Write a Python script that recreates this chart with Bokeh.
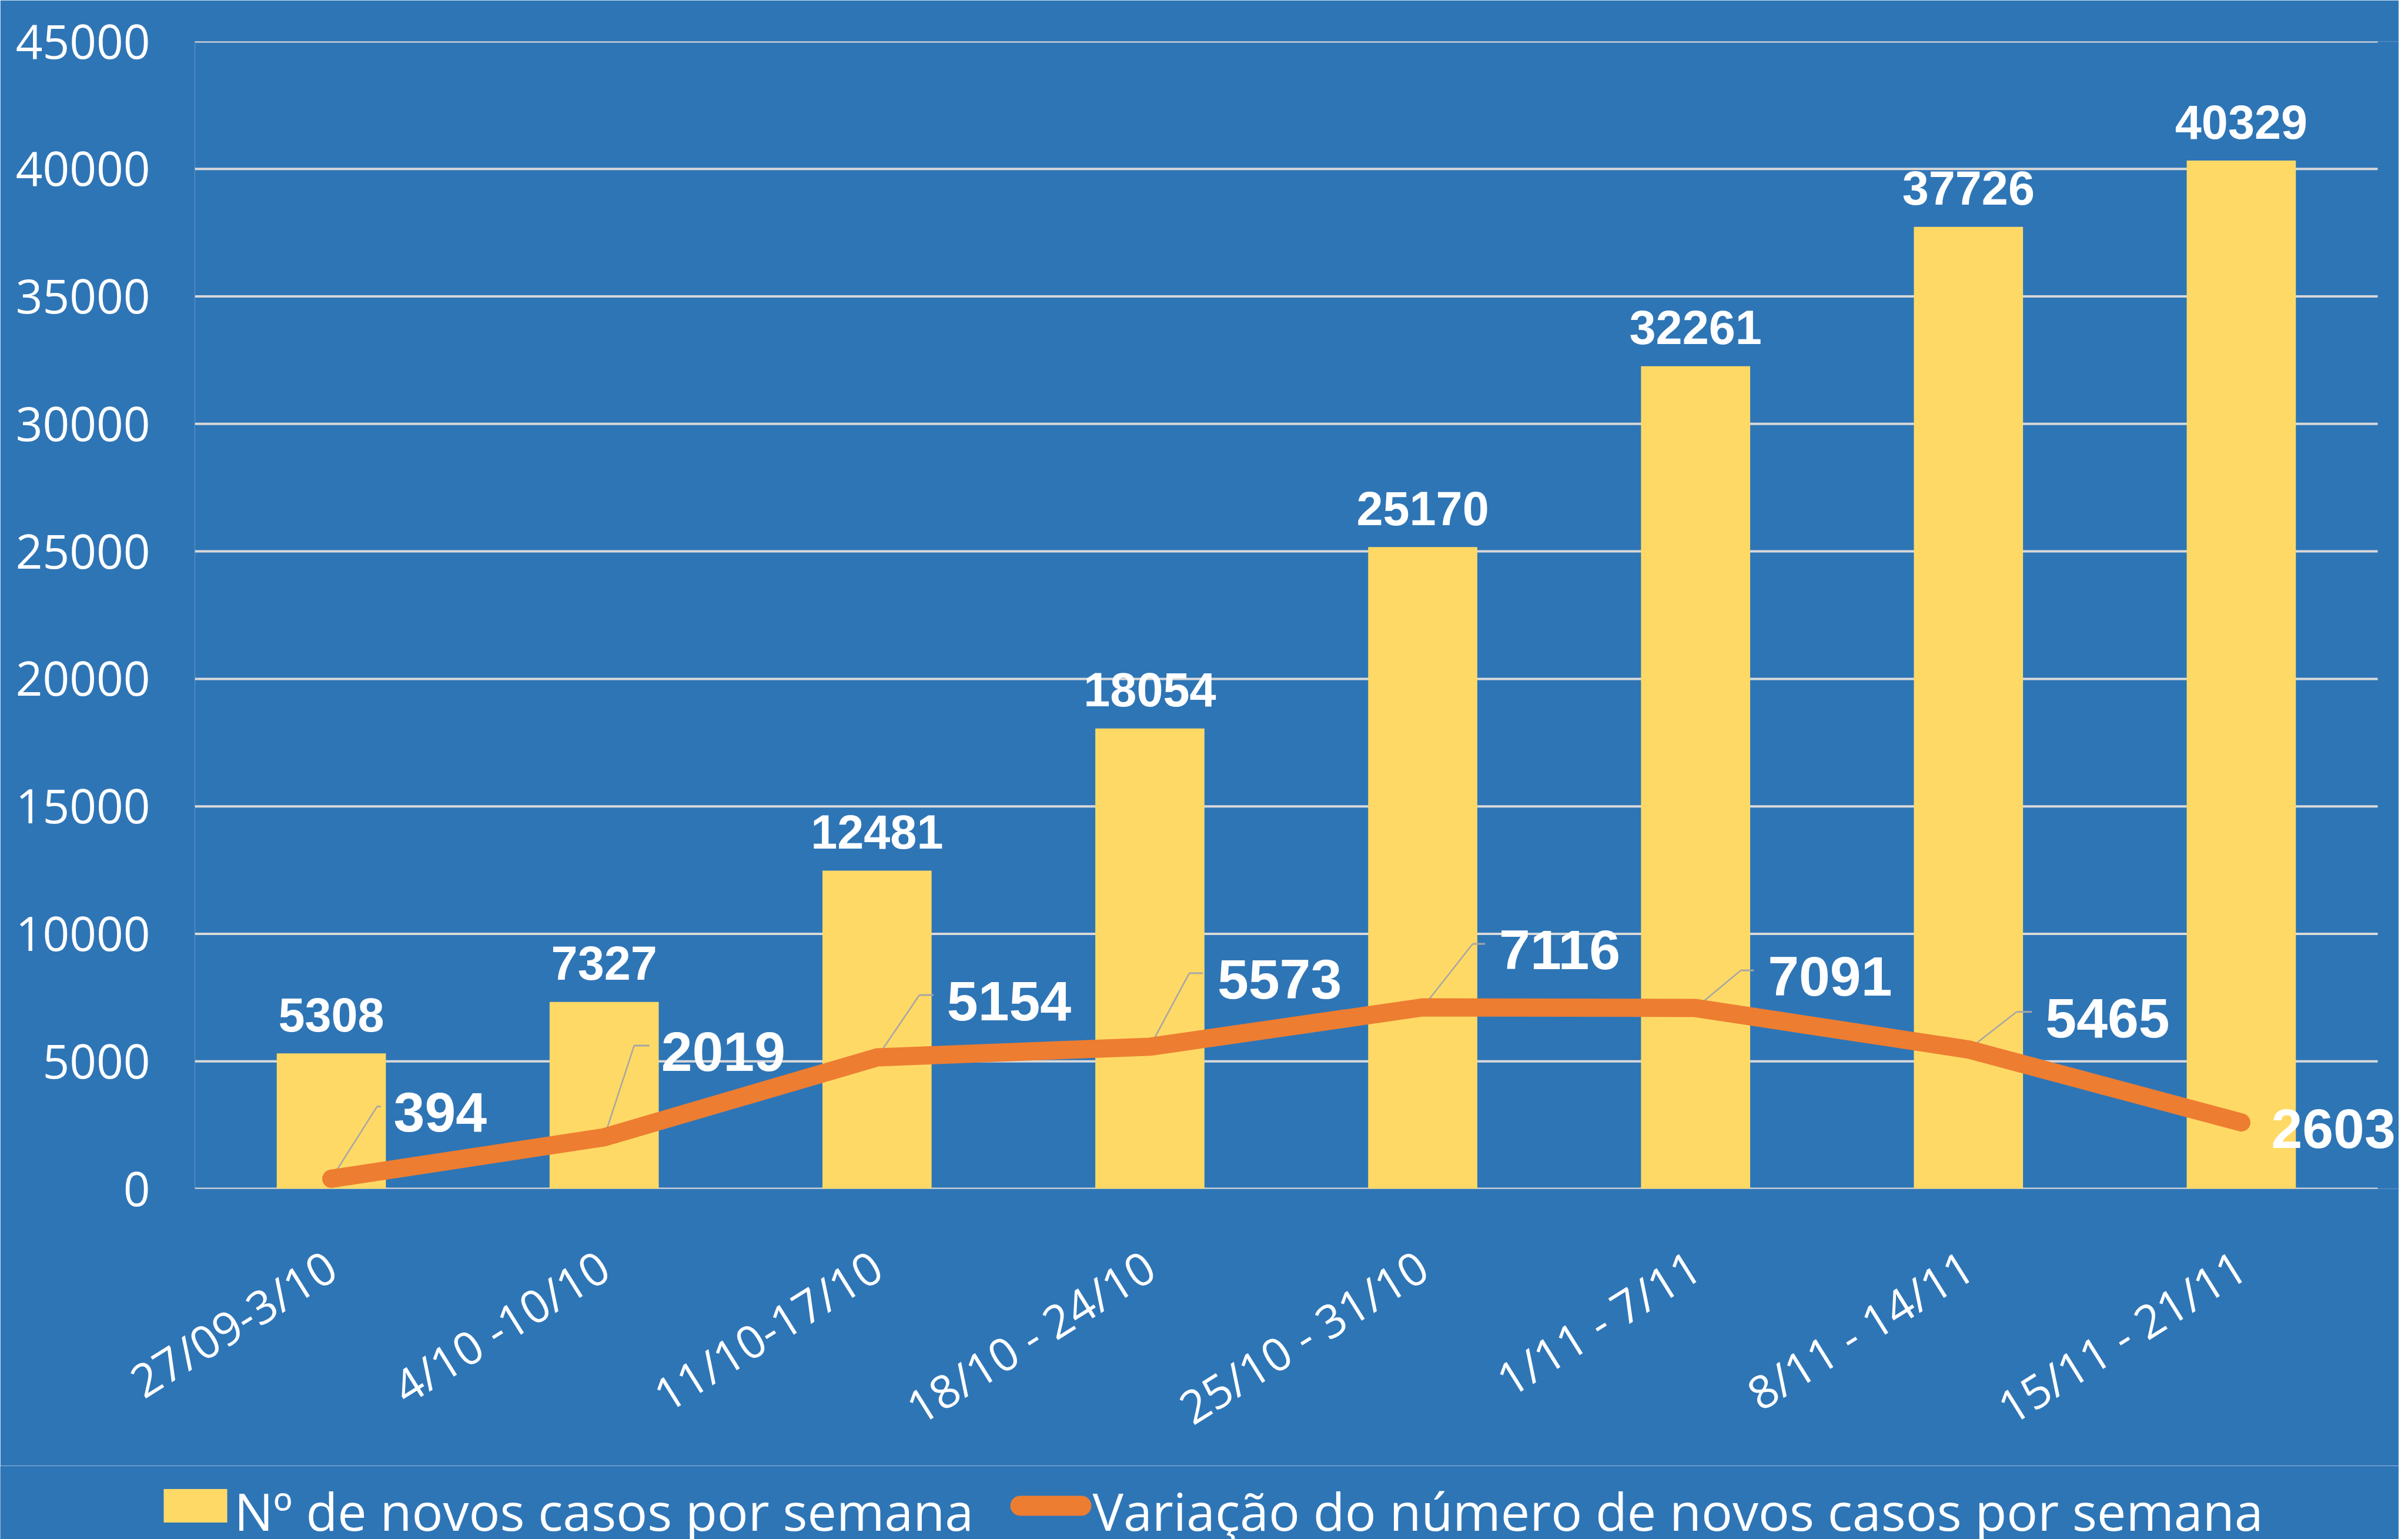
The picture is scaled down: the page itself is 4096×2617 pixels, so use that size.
import math
from bokeh.plotting import figure
from bokeh.models import ColumnDataSource, Range1d, FixedTicker
from bokeh.core.properties import value
from bokeh.embed import file_html
from bokeh.resources import INLINE

# ---------------- data ----------------
weeks = ["27/09-3/10", "4/10 -10/10", "11/10-17/10", "18/10 - 24/10",
         "25/10 - 31/10", "1/11 - 7/11", "8/11 - 14/11", "15/11 - 21/11"]
new_cases = [5308, 7327, 12481, 18054, 25170, 32261, 37726, 40329]
variation = [394, 2019, 5154, 5573, 7116, 7091, 5465, 2603]
y_ticks = [0, 5000, 10000, 15000, 20000, 25000, 30000, 35000, 40000, 45000]
bar_name = "Nº de novos casos por semana"
line_name = "Variação do número de novos casos por semana"

# ---------------- layout / style ----------------
BLUE = "#2E75B6"
GOLD = "#FFD966"
ORANGE = "#ED7D31"
GRID = "#D9D9D9"
LEADER = "#A6A6A6"

W = 4080
B_LEFT, B_RIGHT, B_TOP, B_BOTTOM = 331, 0, 70, 462
GRID_W = 3713                      # width of the category area in px
FRAME_W = W - B_LEFT - B_RIGHT
FRAME_H = 1951
LEG_H = 126
Y_MAX = 45000
n = len(weeks)
px_per_cat = GRID_W / n
px_per_unit = FRAME_H / Y_MAX

# category slot centres (one slot per week)
xpos = [i + 0.5 for i in range(n)]

# label placement for the line's data labels (screen px, relative to the point)
bend_dx = [78, 51, 72, 67, 85, 77, 82, 0]
bend_up = [123, 156, 106, 125, 108, 64, 64, 0]
tick_dx = [84, 77, 96, 90, 106, 99, 108, 0]
text_dx = [106, 97, 119, 115, 130, 123, 131, 51]
has_leader = [True, True, True, True, True, True, True, False]
TEXT_SHIFT = 10

p = figure(x_range=Range1d(0, FRAME_W / px_per_cat), y_range=Range1d(0, Y_MAX),
           frame_width=FRAME_W, frame_height=FRAME_H,
           output_backend="svg", toolbar_location=None,
           background_fill_color=BLUE, border_fill_color=BLUE,
           outline_line_color=None,
           min_border_left=B_LEFT, min_border_right=B_RIGHT,
           min_border_top=B_TOP, min_border_bottom=B_BOTTOM)

# grid (drawn over the category area only)
p.xgrid.grid_line_color = None
p.ygrid.grid_line_color = None
p.segment(x0=[0] * len(y_ticks), x1=[n] * len(y_ticks), y0=y_ticks, y1=y_ticks,
          line_color=GRID, line_width=4)

# axes
p.yaxis.ticker = FixedTicker(ticks=y_ticks)
p.yaxis.axis_line_color = None
p.yaxis.major_tick_line_color = None
p.yaxis.minor_tick_line_color = None
p.yaxis.major_tick_out = 0
p.yaxis.major_label_standoff = 76
p.yaxis.major_label_text_color = "white"
p.yaxis.major_label_text_font = "Open Sans"
p.yaxis.major_label_text_font_size = "80px"

p.xaxis.ticker = FixedTicker(ticks=xpos)
p.xaxis.major_label_overrides = {x: w for x, w in zip(xpos, weeks)}
p.xaxis.axis_line_color = None
p.xaxis.major_tick_line_color = None
p.xaxis.minor_tick_line_color = None
p.xaxis.major_tick_out = 0
p.xaxis.major_label_standoff = 124
p.xaxis.major_label_orientation = math.radians(32)
p.xaxis.major_label_text_color = "white"
p.xaxis.major_label_text_font = "Open Sans"
p.xaxis.major_label_text_font_size = "78px"

# bars
src = ColumnDataSource(dict(x=xpos, week=weeks, cases=new_cases, var=variation,
                            cases_txt=[str(v) for v in new_cases],
                            var_txt=[str(v) for v in variation],
                            tdx=text_dx, tdy=[TEXT_SHIFT - u for u in bend_up]))
p.vbar(x="x", top="cases", width=0.4, source=src, fill_color=GOLD, line_color=None)

p.text(x="x", y="cases", text="cases_txt", source=src,
       text_color="white", text_font=value("Liberation Sans"),
       text_font_style="bold", text_font_size="81px",
       text_align="center", text_baseline="alphabetic", y_offset=-66)

# leader lines (converted from screen offsets to data coordinates)
lx0, ly0, lx1, ly1, hx1 = [], [], [], [], []
for i, v in enumerate(variation):
    if not has_leader[i]:
        continue
    cx = xpos[i]
    lx0.append(cx)
    ly0.append(v)
    lx1.append(cx + bend_dx[i] / px_per_cat)
    ly1.append(v + bend_up[i] / px_per_unit)
    hx1.append(cx + tick_dx[i] / px_per_cat)
p.segment(x0=lx0, y0=ly0, x1=lx1, y1=ly1, line_color=LEADER, line_width=2.5)
p.segment(x0=lx1, y0=ly1, x1=hx1, y1=ly1, line_color=LEADER, line_width=3)

# line
p.line(x="x", y="var", source=src, line_color=ORANGE, line_width=31,
       line_cap="round", line_join="round")

p.text(x="x", y="var", text="var_txt", source=src,
       text_color="white", text_font=value("Liberation Sans"),
       text_font_style="bold", text_font_size="95px",
       text_align="left", text_baseline="middle",
       x_offset="tdx", y_offset="tdy")

# ---------------- legend strip (separate root below the chart) ----------------
leg = figure(x_range=Range1d(0, W), y_range=Range1d(0, LEG_H),
             width=W, height=LEG_H, output_backend="svg", toolbar_location=None,
             x_axis_location=None, y_axis_location=None,
             background_fill_color=BLUE, border_fill_color=BLUE,
             outline_line_color=None,
             min_border_left=0, min_border_right=0, min_border_top=0, min_border_bottom=0)
leg.xgrid.grid_line_color = None
leg.ygrid.grid_line_color = None

LEG_Y = 58          # vertical centre line of the legend (px from bottom)
SW1_X0, SW_W, SW_H = 278, 108, 57
TXT1_X = SW1_X0 + SW_W + 12
SW2_X0, SW2_X1 = 1735, 1839
TXT2_X = SW2_X1 + 19

leg.quad(left=[SW1_X0], right=[SW1_X0 + SW_W],
         bottom=[LEG_Y - SW_H / 2], top=[LEG_Y + SW_H / 2],
         fill_color=GOLD, line_color=None)
leg.line(x=[SW2_X0, SW2_X1], y=[LEG_Y, LEG_Y], line_color=ORANGE,
         line_width=34, line_cap="round")
leg.text(x=[TXT1_X, TXT2_X], y=[LEG_Y, LEG_Y], text=[bar_name, line_name],
         text_color="white", text_font=value("Open Sans"), text_font_size="88px",
         text_align="left", text_baseline="middle", y_offset=8)

open("out.html", "w").write(file_html([p, leg], INLINE))
